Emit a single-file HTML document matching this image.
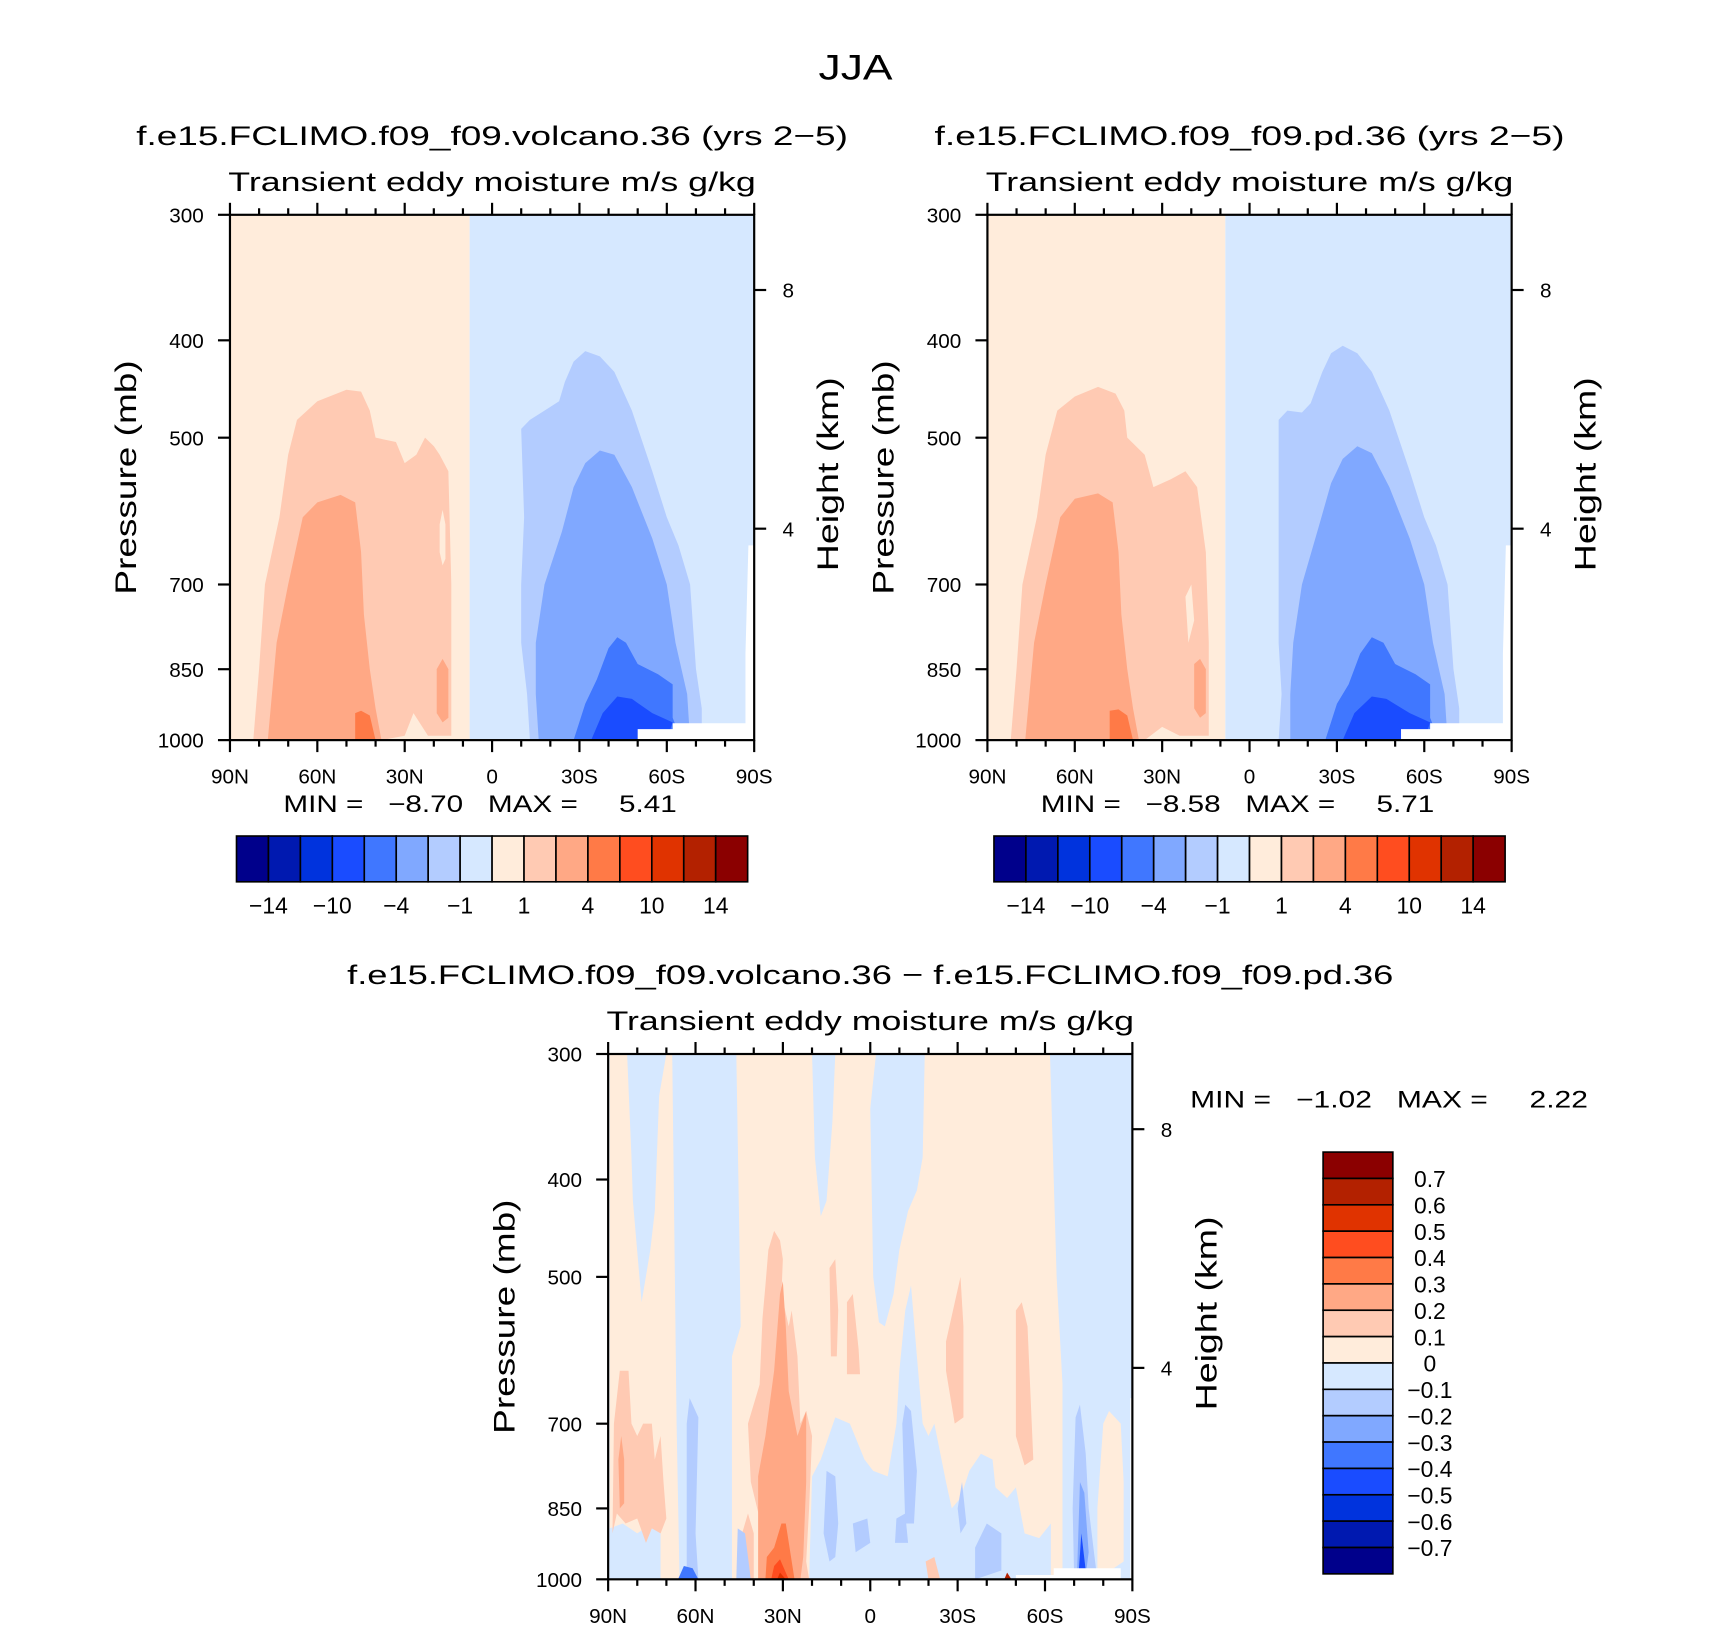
<!DOCTYPE html>
<html><head><meta charset="utf-8"><style>
html,body{margin:0;padding:0;background:#fff;}
svg{display:block;font-family:"Liberation Sans",sans-serif;}
</style></head><body>
<svg id="root" width="1710" height="1629" viewBox="0 0 1569 1494.5" xmlns="http://www.w3.org/2000/svg">
<text x="785" y="73" font-size="32" text-anchor="middle" textLength="68" lengthAdjust="spacingAndGlyphs">JJA</text>
</svg>
<script>
const NS="http://www.w3.org/2000/svg";
const root=document.getElementById('root');
const levelColors=["#00008B","#0019B0","#0033DD","#1A4CFF","#4077FF","#80A8FF","#B3CCFF","#D6E8FF","#FFECDB","#FFCAB3","#FFA885","#FF7A47","#FF4D1F","#E03300","#B32100","#8B0000"];
const topBarLabels=["-14","-10","-4","-1","1","4","10","14"];
const diffBarLabels=["0.7","0.6","0.5","0.4","0.3","0.2","0.1","0","-0.1","-0.2","-0.3","-0.4","-0.5","-0.6","-0.7"];
const latTicks=[90,60,30,0,-30,-60,-90];
const latTickLabels=["90N","60N","30N","0","30S","60S","90S"];
const pTicks=[300,400,500,700,850,1000];
const hTicks=[8,4];
const volcanoRegions=[
 [8,[[90,300],[7.7,300],[7.7,1000],[90,1000]]],
 [7,[[7.7,300],[-90,300],[-90,1000],[7.7,1000]]],
 [9,[[82,1000],[80,850],[78,700],[73,600],[70,520],[67,480],[60,460],[50,448],[45,450],[42,470],[40,500],[33,505],[30,530],[26,520],[23,500],[20,510],[18,520],[15,540],[14,700],[14,990],[22,990],[27,940],[30,990],[38,1000]]],
 [8,[[18,610],[17,590],[16,610],[16,660],[17,670],[18,650]]],
 [10,[[77,1000],[74,800],[70,700],[65,600],[60,580],[52,570],[47,580],[45,650],[44,750],[42,850],[40,930],[38,1000]]],
 [10,[[19,850],[17,830],[15,850],[15,950],[17,960],[19,940]]],
 [11,[[47,1000],[47,940],[45,935],[42,945],[40,1000]]],
 [6,[[-13,1000],[-12,900],[-10,800],[-10,700],[-11,600],[-10,490],[-13,480],[-18,470],[-23,460],[-25,440],[-28,420],[-32,410],[-37,415],[-42,430],[-48,470],[-55,540],[-60,600],[-64,640],[-68,700],[-70,850],[-72,930],[-72,1000]]],
 [5,[[-16,1000],[-15,900],[-15,800],[-18,700],[-24,620],[-28,560],[-32,530],[-37,515],[-42,520],[-48,560],[-55,630],[-60,700],[-63,800],[-67,900],[-68,1000]]],
 [4,[[-28,1000],[-32,920],[-36,870],[-40,810],[-43,790],[-46,800],[-50,840],[-57,860],[-62,880],[-62,950],[-65,1000]]],
 [3,[[-34,1000],[-38,940],[-43,905],[-48,910],[-55,940],[-62,960],[-60,1000]]],
 [-1,[[-50,1000],[-50,975],[-62,975],[-62,962],[-90,962],[-90,1000]]],
 [-1,[[-87,1000],[-87,820],[-88,640],[-90,640],[-90,1000]]]
];
const pdRegions=[
 [8,[[90,300],[8.3,300],[8.3,1000],[90,1000]]],
 [7,[[8.3,300],[-90,300],[-90,1000],[8.3,1000]]],
 [9,[[82,1000],[80,850],[78,700],[73,600],[70,520],[66,470],[60,455],[52,445],[46,452],[43,470],[42,500],[36,520],[33,560],[27,550],[22,540],[18,560],[15,650],[14,800],[14,990],[24,990],[30,970],[36,1000]]],
 [8,[[22,720],[20,700],[19,760],[21,800]]],
 [10,[[77,1000],[74,800],[70,700],[65,600],[60,575],[52,568],[47,580],[45,650],[44,750],[42,850],[40,930],[38,1000]]],
 [10,[[19,840],[17,830],[15,850],[15,940],[17,950],[19,930]]],
 [11,[[48,1000],[48,935],[45,932],[42,945],[40,1000]]],
 [6,[[-10,1000],[-11,900],[-10,800],[-10,700],[-10,600],[-10,480],[-13,470],[-18,472],[-21,462],[-25,430],[-28,412],[-32,405],[-37,412],[-42,430],[-48,470],[-55,540],[-60,600],[-64,640],[-68,700],[-70,850],[-72,930],[-72,1000]]],
 [5,[[-14,1000],[-14,900],[-15,800],[-18,700],[-24,610],[-28,555],[-32,525],[-37,510],[-42,518],[-48,560],[-55,630],[-60,700],[-63,800],[-67,900],[-68,1000]]],
 [4,[[-26,1000],[-30,920],[-34,880],[-38,820],[-42,790],[-46,800],[-50,840],[-57,860],[-62,880],[-62,950],[-65,1000]]],
 [3,[[-32,1000],[-36,940],[-42,905],[-47,910],[-55,940],[-62,960],[-60,1000]]],
 [-1,[[-52,1000],[-52,975],[-62,975],[-62,962],[-90,962],[-90,1000]]],
 [-1,[[-87,1000],[-87,820],[-88,640],[-90,640],[-90,1000]]]
];
const diffRegions=[
 [8,[[90,300],[-90,300],[-90,1000],[90,1000]]],
 [7,[[90,300],[89.5,300],[89.5,1000],[90,1000]]],
 [7,[[83.5,300],[82,380],[81.5,420],[78.5,530],[75.5,470],[74,430],[72.5,330],[70,300]]],
 [7,[[68,300],[66.5,700],[65.5,1000],[47.5,1000],[47.5,600],[44.5,560],[45,450],[46,300]]],
 [7,[[89.5,890],[85,880],[80,900],[75,880],[72,900],[72,1000],[89.5,1000]]],
 [7,[[20,300],[19,380],[17,435],[15,420],[13,350],[12,300]]],
 [7,[[-2,300],[0,340],[-1,500],[-3,555],[-5,560],[-8,520],[-10,470],[-13,430],[-16,410],[-18,380],[-18.7,300]]],
 [7,[[21,1000],[20,790],[17,760],[12,690],[7,700],[2,760],[-1,780],[-6,790],[-9,700],[-10,620],[-12,540],[-14,510],[-16,600],[-18,700],[-20,720],[-22,700],[-26,800],[-28,850],[-31,830],[-34,780],[-38,750],[-42,760],[-43,810],[-47,830],[-50,810],[-53,900],[-58,910],[-62,880],[-62,1000]]],
 [7,[[-61.7,300],[-64,500],[-66,640],[-66,1000],[-90,1000],[-90,300]]],
 [8,[[-78,1000],[-78,850],[-80,700],[-82,680],[-86,700],[-87,800],[-87,960]]],
 [9,[[88.5,900],[88,700],[86,620],[83,620],[82,700],[80,720],[78,700],[75,700],[74,760],[72,720],[71,800],[70,870],[72,900],[75,890],[77,920],[80,870],[84,880],[87,860]]],
 [10,[[86.5,760],[85.5,720],[84.5,760],[84.5,840],[86,850]]],
 [9,[[37,1000],[38,870],[41,800],[42,700],[38,640],[37,550],[36,510],[35,470],[33,450],[31,460],[30,480],[30.5,520],[28,560],[27,540],[25,600],[24,700],[22,680],[20,720],[21,850],[22,960],[21,1000]]],
 [9,[[44,1000],[44,900],[42,860],[40,900],[40,1000]]],
 [10,[[38.5,1000],[38.5,790],[36,720],[33,620],[31,520],[30,505],[29,560],[28,650],[25,720],[22,680],[22,800],[23,950],[24,1000]]],
 [11,[[36,1000],[35.5,950],[33,930],[30.5,880],[29,880],[26,1000]]],
 [12,[[34,1000],[33,970],[31,955],[28,1000]]],
 [13,[[32,1000],[31,985],[29,1000]]],
 [9,[[14,490],[12,480],[11,540],[11.5,600],[13.5,600]]],
 [9,[[8,530],[6,520],[4,590],[3.5,625],[8,625]]],
 [9,[[-31,500],[-32,560],[-32,690],[-29,700],[-26,620],[-26,580]]],
 [9,[[-50,540],[-52,530],[-54,560],[-56,760],[-53,770],[-50,720]]],
 [9,[[-20,1000],[-19,960],[-22,950],[-24,1000]]],
 [6,[[63,1000],[63,700],[62,660],[59,690],[60,900],[59,1000]]],
 [4,[[66,1000],[64,970],[61,975],[59,1000]]],
 [6,[[46,1000],[45.5,890],[43,900],[41,1000]]],
 [6,[[16,900],[15,780],[12,790],[11,880],[12,950],[14,960]]],
 [6,[[6,880],[1,870],[0,920],[5,940]]],
 [6,[[-8.5,920],[-9,870],[-12,860],[-13,920]]],
 [6,[[-11,700],[-12,670],[-14,680],[-16,780],[-15,880],[-12,880]]],
 [6,[[-30,850],[-31.5,800],[-33,880],[-31,900]]],
 [6,[[-36,1000],[-36,930],[-40,880],[-45,900],[-45,980]]],
 [6,[[-70,1000],[-69.5,850],[-70.5,690],[-72,670],[-74,750],[-75,850],[-77,950],[-78,1000]]],
 [5,[[-71,990],[-72,800],[-73.5,820],[-75,940],[-74,990]]],
 [3,[[-71.5,990],[-72.5,900],[-74,980]]],
 [14,[[-46,1000],[-47,985],[-48.5,1000]]],
 [-1,[[-50,1000],[-50,990],[-63,990],[-63,975],[-86,975],[-86,1000]]],
 [-1,[[-89.3,1000],[-89.3,660],[-90,660],[-90,1000]]]
];
function el(tag,attrs,parent){const e=document.createElementNS(NS,tag);for(const k in attrs)e.setAttribute(k,attrs[k]);(parent||root).appendChild(e);return e;}
function txt(x,y,s,size,anchor,parent,rot,tl){const t=el('text',{x:x,y:y,'font-size':size,'text-anchor':anchor||'middle'},parent);if(rot)t.setAttribute('transform',`rotate(${rot} ${x} ${y})`);if(tl){t.setAttribute('textLength',tl);t.setAttribute('lengthAdjust','spacingAndGlyphs');}t.textContent=s.replace(/-/g,'\u2212');return t;}
function panel(name,x0,y0,title,titleLen,regions,mm){
 const W=481,H=482;
 const g=el('g',{});
 
 
 const xs=lat=>x0+(90-lat)/180*W;
 const ys=p=>y0+H-Math.log(1000/p)/Math.log(1000/300)*H;
 const yh=h=>y0+69+(8-h)*54.75;
 if(title){const t=txt(x0+W/2,y0-64,title,25,'middle',g,0,titleLen);}
 const st=txt(x0+W/2,y0-22,'Transient  eddy  moisture m/s  g/kg',25,'middle',g,0,484);
 
 
 const clip='c'+name;
 const cp=el('clipPath',{id:clip},g);el('rect',{x:x0,y:y0,width:W,height:H},cp);
 const cg=el('g',{'clip-path':`url(#${clip})`},g);
 regions.forEach(r=>{
  const pts=r[1].map(q=>xs(q[0]).toFixed(1)+','+ys(q[1]).toFixed(1)).join(' ');
  const pg=el('polygon',{points:pts,fill:r[0]<0?'#fff':levelColors[r[0]],stroke:'none'},cg);
  
  
 });
 const ax=el('g',{stroke:'#000','stroke-width':2,fill:'none'},g);
 
 
 el('rect',{x:x0,y:y0,width:W,height:H},ax);
 for(let lat=90;lat>=-90;lat-=10){const x=xs(lat);const maj=lat%30===0;const L=maj?11:6;
  el('line',{x1:x,y1:y0+H,x2:x,y2:y0+H+L},ax);el('line',{x1:x,y1:y0,x2:x,y2:y0-L},ax);}
 latTicks.forEach((lat,i)=>{const t=txt(xs(lat),y0+H+40,latTickLabels[i],19,'middle',g);});
 pTicks.forEach(p=>{const y=ys(p);el('line',{x1:x0-11,y1:y,x2:x0,y2:y},ax);
  const t=txt(x0-24,y+7,String(p),19,'end',g);});
 hTicks.forEach(h=>{const y=yh(h);el('line',{x1:x0+W,y1:y,x2:x0+W+11,y2:y},ax);
  const t=txt(x0+W+26,y+7,String(h),19,'start',g);});
 const yt=txt(x0-86,y0+H/2,'Pressure  (mb)',27,'middle',g,-90,215);
 const ht=txt(x0+W+77,y0+H/2-3,'Height  (km)',27,'middle',g,-90,178);
 if(mm){const m=txt(x0+W/2-11,y0+H+66,mm,22,'middle',g,0,361);m.style.whiteSpace='pre';}
}
function hbar(name,x0,y0){
 const g=el('g',{});
 const w=469/16;
 levelColors.forEach((c,i)=>{const r=el('rect',{x:x0+i*w,y:y0,width:w,height:42,fill:c,stroke:'#000','stroke-width':1.5},g);});
 topBarLabels.forEach((s,i)=>{const t=txt(x0+(2*i+1)*w,y0+71,s,21,'middle',g);});
}
function vbar(name,x0,y0){
 const g=el('g',{});
 const h=387/16;
 levelColors.slice().reverse().forEach((c,i)=>{const r=el('rect',{x:x0,y:y0+i*h,width:64,height:h,fill:c,stroke:'#000','stroke-width':1.5},g);});
 diffBarLabels.forEach((s,i)=>{const t=txt(x0+98,y0+(i+1)*h+8,s,21,'middle',g);});
}
panel('volcano-panel',211,197,'f.e15.FCLIMO.f09_f09.volcano.36 (yrs 2-5)',653,volcanoRegions,'MIN =   -8.70   MAX =     5.41');
hbar('volcano-colorbar',217,767);
panel('pd-panel',906,197,'f.e15.FCLIMO.f09_f09.pd.36 (yrs 2-5)',578,pdRegions,'MIN =   -8.58   MAX =     5.71');
hbar('pd-colorbar',912,767);
panel('difference-panel',558,967,'f.e15.FCLIMO.f09_f09.volcano.36 - f.e15.FCLIMO.f09_f09.pd.36',960,diffRegions,null);
vbar('difference-colorbar',1214,1057);
const dm=txt(1092,1016,'MIN =   -1.02   MAX =     2.22',22,'start',null,0,365);
dm.style.whiteSpace='pre';


</script>
</body></html>
